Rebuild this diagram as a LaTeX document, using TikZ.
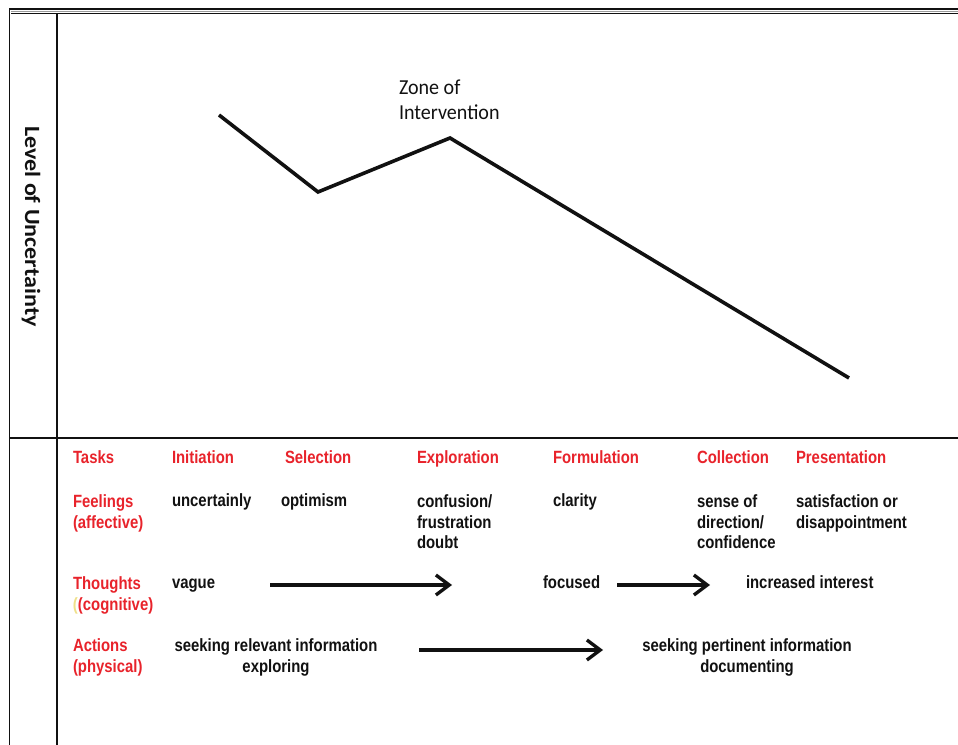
\documentclass[tikz,border=0pt]{standalone}
\usepackage{fontspec}
\usepackage{xcolor}
\usepackage{graphicx}
\usetikzlibrary{positioning,arrows.meta}
\newfontfamily\tabfont[FakeStretch=0.84]{Liberation Sans}
\newfontfamily\zonefont[FakeStretch=0.94]{Carlito}
\definecolor{stagered}{HTML}{E8232B}
\definecolor{parenyellow}{HTML}{EFE08A}
\definecolor{inkblack}{HTML}{111111}
\definecolor{rulegrey}{HTML}{9A9A9A}

\begin{document}
\begin{tikzpicture}[x=0.75pt, y=-0.75pt,
    every node/.style={inner sep=0pt, outer sep=0pt},
    rowhead/.style={anchor=base west, align=left, text=stagered,
      font=\tabfont\bfseries\fontsize{13.3}{15.75}\selectfont},
    cell/.style={anchor=base west, align=left, text=inkblack,
      font=\tabfont\bfseries\fontsize{13.3}{15.75}\selectfont},
    midcell/.style={cell, anchor=base, align=center},
    frame/.style={inkblack, line width=0.8pt},
    trend/.style={inkblack, line width=2.7pt, line join=miter},
    flow/.style={-{Straight Barb[length=10pt, width=15pt]}, inkblack, line width=2.5pt}
  ]
  \useasboundingbox (0,0) rectangle (958,745);

  % table frame
  \draw[frame, line width=1.1pt] (9,9) -- (958,9);
  \draw[rulegrey, line width=0.5pt] (11,11) -- (958,11);
  \draw[frame] (11,13.3) -- (958,13.3);
  \draw[frame, line width=1.1pt] (9.5,9) -- (9.5,745);
  \draw[frame] (57,13.3) -- (57,745);
  \draw[frame] (9.5,438) -- (958,438);

  \node[rotate=-90, font=\zonefont\bfseries\fontsize{19.2}{21}\selectfont, text=inkblack] (axis) at (31,226.5)
    {\scalebox{1}[0.85]{Level of Uncertainty}};

  % the uncertainty curve
  \coordinate (init) at (219,115);
  \coordinate (sel) at (318,192);
  \coordinate (expl) at (450,138);
  \coordinate (pres) at (849,378);
  \draw[trend] (init) -- (sel) -- (expl) -- (pres);

  % multi-line nodes sit on the baseline of their last line
  \node[anchor=base west, align=left, text=inkblack,
    font=\zonefont\fontsize{16}{18.75}\selectfont] (zone) at (399,120) {Zone of\\Intervention};

  % stage rows
  \node[rowhead] (tasks) at (73,464) {Tasks};
  \node[rowhead] (tinit) at (172,464) {Initiation};
  \node[rowhead] (tsel) at (285,464) {Selection};
  \node[rowhead] (texpl) at (417,464) {Exploration};
  \node[rowhead] (tform) at (553,464) {Formulation};
  \node[rowhead] (tcoll) at (697,464) {Collection};
  \node[rowhead] (tpres) at (796,464) {Presentation};

  \node[rowhead] (feel) at (73,528) {Feelings\\(affective)};
  \node[cell] (finit) at (172,507) {uncertainly};
  \node[cell] (fsel) at (281,507) {optimism};
  \node[cell] (fexpl) at (417,549) {confusion/\\frustration\\doubt};
  \node[cell] (fform) at (553,507) {clarity};
  \node[cell] (fcoll) at (697,549) {sense of\\direction/\\confidence};
  \node[cell] (fpres) at (796,528) {satisfaction or\\disappointment};

  \node[rowhead] (thought) at (73,610) {Thoughts\\{\color{parenyellow}(}(cognitive)};
  \node[cell] (vague) at (172,589) {vague};
  \node[cell] (focused) at (543,589) {focused};
  \node[cell] (interest) at (746,589) {increased interest};

  \node[rowhead] (act) at (73,672) {Actions\\(physical)};
  \node[midcell] (relevant) at (276,672) {seeking relevant information\\exploring};
  \node[midcell] (pertinent) at (747,672) {seeking pertinent information\\documenting};

  \coordinate (th1s) at (270,585);
  \coordinate (th1e) at (452,585);
  \coordinate (th2s) at (617,585);
  \coordinate (th2e) at (710,585);
  \coordinate (ac1s) at (419,650);
  \coordinate (ac1e) at (603,650);
  \foreach \a/\b in {th1s/th1e, th2s/th2e, ac1s/ac1e} {\draw[flow] (\a) -- (\b);}

\end{tikzpicture}
\end{document}
